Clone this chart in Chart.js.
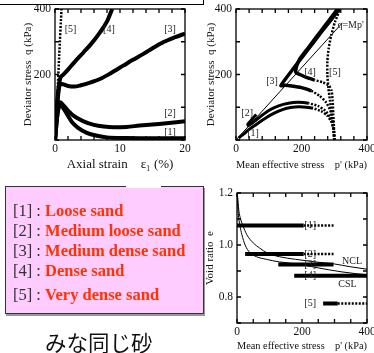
<!DOCTYPE html>
<html>
<head>
<meta charset="utf-8">
<script src="https://cdn.jsdelivr.net/npm/chart.js@4"></script>
<style>
  body { margin: 0; width: 374px; height: 353px; background: #fff; position: relative; overflow: hidden; font-family: 'Liberation Serif', serif; }
  canvas { position: absolute; }
  #c1 { left: 22px; top: 0; }
  #c2 { left: 205px; top: 0; }
  #c3 { left: 204px; top: 178px; }
  #topbox { position: absolute; left: -2px; top: -20px; width: 204px; height: 23px; border: 1px solid #000; }
  #legend { position: absolute; left: 5px; top: 186px; width: 199px; height: 128px; background: #ffccff; border: 1px solid #333; box-shadow: 1px 2px 0 #999; box-sizing: border-box; }
  #gap { position: absolute; left: 126px; top: 185px; width: 35px; height: 3px; background: #fff; }
  #legend div { position: absolute; left: 7px; font-size: 16.5px; line-height: 18px; color: #333; white-space: nowrap; }
  #legend b { color: #ff3300; }
  #jp { position: absolute; left: 45px; top: 330px; font-family: 'Noto Sans CJK JP', sans-serif; font-size: 21.5px; line-height: 24px; color: #111; }
</style>
</head>
<body>
<div id="topbox"></div>
<canvas id="c1" width="170" height="172"></canvas>
<canvas id="c2" width="169" height="172"></canvas>
<canvas id="c3" width="170" height="175"></canvas>
<div id="legend">
  <div style="top:15px">[1] : <b>Loose sand</b></div>
  <div style="top:35px">[2] : <b>Medium loose sand</b></div>
  <div style="top:55px">[3] : <b>Medium dense sand</b></div>
  <div style="top:75px">[4] : <b>Dense sand</b></div>
  <div style="top:99px">[5] : <b>Very dense sand</b></div>
</div>
<div id="gap"></div>
<div id="jp">みな同じ砂</div>
<script>
// --- stress-strain curves (axial strain %, q kPa)
const strainCurve1 = [[0,0],[0.4,80],[0.8,110],[1.2,100],[1.8,80],[2.6,55],[3.5,38],[4.9,22],[6.5,13],[8,8],[11,6],[15,5],[20,5]];
const strainCurve2 = [[0,0],[0.4,85],[0.8,115],[1.2,108],[2,90],[3,72],[4.4,57],[6,46],[7.5,41],[9,39],[11,40],[13,44],[16,49],[20,57]];
const strainCurve3 = [[0,0],[0.4,120],[0.8,172],[1.3,170],[2,165],[3,163],[4,167],[5.5,176],[7,187],[8.5,203],[10.5,227],[12,245],[13.6,263],[15,280],[16.7,299],[18.5,314],[20,325]];
const strainCurve4 = [[0,0],[0.4,130],[0.8,188],[1.2,198],[2,215],[3,238],[4.4,268],[5.5,292],[6.9,328],[8,362],[8.8,400]];
const strainCurve5 = [[0,0],[0.35,130],[0.65,260],[1.0,400]];

// --- stress paths (p' kPa, q kPa)
const path1 = [[300,0],[299,20],[296,40],[290,58],[278,75],[260,88],[235,97],[205,101],[180,101],[155,97],[130,88],[105,76],[80,60],[60,46],[42,34],[28,22],[15,12],[8,6]];
const path2 = [[300,0],[299,25],[295,50],[287,70],[272,90],[250,104],[222,112],[190,115],[160,112],[130,104],[100,90],[75,72],[55,56],[38,44],[36,48],[48,62],[62,78]];
const path3 = [[300,0],[299,30],[295,60],[288,90],[275,115],[255,135],[230,150],[200,160],[170,165],[150,167],[137,166],[150,185],[175,218],[205,257],[235,296],[265,335],[295,373],[316,400]];
const path4 = [[300,0],[299,40],[297,80],[295,120],[292,150],[284,166],[265,176],[240,183],[215,191],[195,200],[183,206],[185,225],[195,248],[220,281],[245,314],[270,347],[295,380],[310,400]];
const path5 = [[300,0],[297,40],[292,80],[287,120],[282,160],[279,200],[279,240],[283,280],[291,320],[302,360],[318,400]];
const lineM = [[0,0],[325,358]];

// --- void ratio (p' kPa, e)
const voidRatio = [1.075, 0.965, 0.925, 0.882, 0.775];
const pStart = [0, 25, 127, 176, 265];
const pSolidEnd = [205, 205, 297, 400, 310];
const pEnd = [297, 297, 297, 400, 400];
const ncl = [[1,1.2],[3,1.17],[6,1.13],[10,1.105],[18,1.075],[30,1.04],[50,1.008],[70,0.988],[92,0.97],[130,0.955],[180,0.945],[240,0.935],[300,0.927],[350,0.916],[400,0.907]];
const csl = [[1,1.2],[2,1.16],[4,1.12],[9,1.075],[15,1.04],[25,1.0],[40,0.97],[60,0.955],[90,0.945],[130,0.935],[185,0.927],[250,0.912],[320,0.897],[400,0.885]];

// ticks
const strainTicks = [0,2,4,6,8,10,12,14,16,18,20];
const strainLabels = [0,10,20];
const qTicks = [0,100,200,300,400];
const qLabels = [200,400];
const pTicks = [0,40,80,120,160,200,240,280,320,360,400];
const pTicks3 = [0,50,100,150,200,250,300,350,400];
const pLabels = [0,200,400];
const eTicks = [0.7,0.8,0.9,1.0,1.1,1.2];
const eLabels = [0.8,1.0,1.2];

// text notes
const notes1 = [[2.4,338,'[5]'],[8.3,338,'[4]'],[17.7,338,'[3]'],[17.7,80,'[2]'],[17.7,22,'[1]']];
const notes2 = [[52,20,'[1]'],[34,82,'[2]'],[110,180,'[3]'],[226,208,'[4]'],[302,206,'[5]'],[350,350,"q=Mp'"]];
const notes3 = [[225,1.075,'[1]'],[225,0.965,'[2]'],[225,0.925,'[3]'],[225,0.882,'[4]'],[225,0.775,'[5]'],[354,0.936,'NCL'],[340,0.85,'CSL']];

const pts = arr => arr.map(([x, y]) => ({x, y}));
const serif = 'Liberation Serif';
Chart.defaults.font.family = serif;
Chart.defaults.color = '#111';

const frame = {
  id: 'frame',
  afterDatasetsDraw(chart) {
    const {ctx, chartArea: a, scales: {x, y}} = chart;
    ctx.save();
    ctx.strokeStyle = '#000';
    ctx.lineWidth = 1.3;
    ctx.strokeRect(a.left, a.top, a.right - a.left, a.bottom - a.top);
    ctx.beginPath();
    x.ticks.forEach(t => {
      const px = x.getPixelForValue(t.value);
      ctx.moveTo(px, a.bottom); ctx.lineTo(px, a.bottom - 4);
      ctx.moveTo(px, a.top); ctx.lineTo(px, a.top + 4);
    });
    y.ticks.forEach(t => {
      const py = y.getPixelForValue(t.value);
      ctx.moveTo(a.left, py); ctx.lineTo(a.left + 4, py);
      ctx.moveTo(a.right, py); ctx.lineTo(a.right - 4, py);
    });
    ctx.stroke();
    const notes = chart.options.plugins.frame.notes || [];
    ctx.font = '10px ' + serif;
    ctx.fillStyle = '#222';
    ctx.textAlign = 'center';
    ctx.textBaseline = 'middle';
    notes.forEach(([vx, vy, txt]) => ctx.fillText(txt, x.getPixelForValue(vx), y.getPixelForValue(vy)));
    ctx.restore();
  }
};

function axes(xMin, xMax, xT, xL, xTitle, xH, yMin, yMax, yT, yL, yTitle, yW, fmt, xTitleSize) {
  return {
    x: {
      type: 'linear', min: xMin, max: xMax,
      grid: { display: false, drawTicks: false }, border: { display: false },
      afterBuildTicks: s => { s.ticks = xT.map(v => ({value: v})); },
      afterFit: s => { s.height = xH; s.paddingLeft = 0; s.paddingRight = 0; },
      ticks: { autoSkip: false, maxRotation: 0, padding: 2, font: { size: 11.5 },
        callback: v => xL.includes(v) ? String(v) : '' },
      title: { display: true, text: xTitle, font: { size: xTitleSize || 11 }, padding: { top: 0, bottom: 0 } }
    },
    y: {
      type: 'linear', min: yMin, max: yMax,
      grid: { display: false, drawTicks: false }, border: { display: false },
      afterBuildTicks: s => { s.ticks = yT.map(v => ({value: v})); },
      afterFit: s => { s.width = yW; s.paddingTop = 0; s.paddingBottom = 0; },
      ticks: { autoSkip: false, padding: 4, font: { size: 11.5 },
        callback: v => yL.some(l => Math.abs(l - v) < 1e-6) ? (fmt ? v.toFixed(1) : String(v)) : '' },
      title: { display: true, text: yTitle, font: { size: 11 }, padding: { top: 0, bottom: 0 } }
    }
  };
}

function line(data, width, dashed, extra) {
  return Object.assign({
    data: pts(data), showLine: true, borderColor: '#000', borderWidth: width,
    pointRadius: 0, borderDash: dashed ? [2, 1.5] : [], tension: 0.2
  }, extra || {});
}

const base = (padding) => ({
  responsive: false, devicePixelRatio: 1, animation: false,
  layout: { padding },
  plugins: { legend: { display: false }, tooltip: { enabled: false } }
});

// chart 1: q vs axial strain
const opt1 = base({ left: 0, top: 9, right: 7, bottom: 0 });
opt1.scales = axes(0, 20, strainTicks, strainLabels, 'Axial strain    \u03b5\u2081 (%)', 32, 0, 400, qTicks, qLabels, 'Deviator stress  q (kPa)', 33, false, 13);
opt1.plugins.frame = { notes: notes1 };
new Chart(document.getElementById('c1'), {
  type: 'scatter',
  data: { datasets: [
    line(strainCurve1, 4, false, { cubicInterpolationMode: 'monotone' }),
    line(strainCurve2, 4, false, { cubicInterpolationMode: 'monotone' }),
    line(strainCurve3, 4, false, { cubicInterpolationMode: 'monotone' }),
    line(strainCurve4, 4, false, { cubicInterpolationMode: 'monotone' }),
    line(strainCurve5, 2.5, true)
  ] },
  options: opt1,
  plugins: [frame]
});

// chart 2: stress paths
const dotSeg = { segment: { borderDash: c => (c.p0.parsed.x > 240 && c.p0.parsed.y < 230) ? [2, 1.5] : undefined,
  borderWidth: c => (c.p0.parsed.x > 240 && c.p0.parsed.y < 230) ? 2.5 : undefined } };
const opt2 = base({ left: 0, top: 9, right: 7, bottom: 0 });
opt2.scales = axes(0, 400, pTicks, pLabels, "Mean effective stress    p' (kPa)", 32, 0, 400, qTicks, qLabels, 'Deviator stress  q (kPa)', 31);
opt2.plugins.frame = { notes: notes2 };
new Chart(document.getElementById('c2'), {
  type: 'scatter',
  data: { datasets: [
    line(lineM, 1, false, { tension: 0 }),
    line(path1, 3, false, dotSeg),
    line(path2, 3, false, dotSeg),
    line(path3, 3.5, false, dotSeg),
    line(path4, 3.5, false, dotSeg),
    line(path5, 2.5, true)
  ] },
  options: opt2,
  plugins: [frame]
});

// chart 3: void ratio
const sets3 = [
  line(ncl, 1, false, { cubicInterpolationMode: 'monotone' }),
  line(csl, 1, false, { cubicInterpolationMode: 'monotone' })
];
voidRatio.forEach((e, i) => {
  sets3.push(line([[pStart[i], e], [pSolidEnd[i], e]], 4, false, { tension: 0 }));
  if (pEnd[i] > pSolidEnd[i]) sets3.push(line([[pSolidEnd[i], e], [pEnd[i], e]], 2.5, true, { tension: 0 }));
});
const opt3 = base({ left: 0, top: 15, right: 7, bottom: 0 });
opt3.scales = axes(0, 400, pTicks3, pLabels, "Mean effective stress    p' (kPa)", 30, 0.7, 1.2, eTicks, eLabels, 'Void ratio  e', 33, true);
opt3.plugins.frame = { notes: notes3 };
new Chart(document.getElementById('c3'), {
  type: 'scatter',
  data: { datasets: sets3 },
  options: opt3,
  plugins: [frame]
});
</script>
</body>
</html>
